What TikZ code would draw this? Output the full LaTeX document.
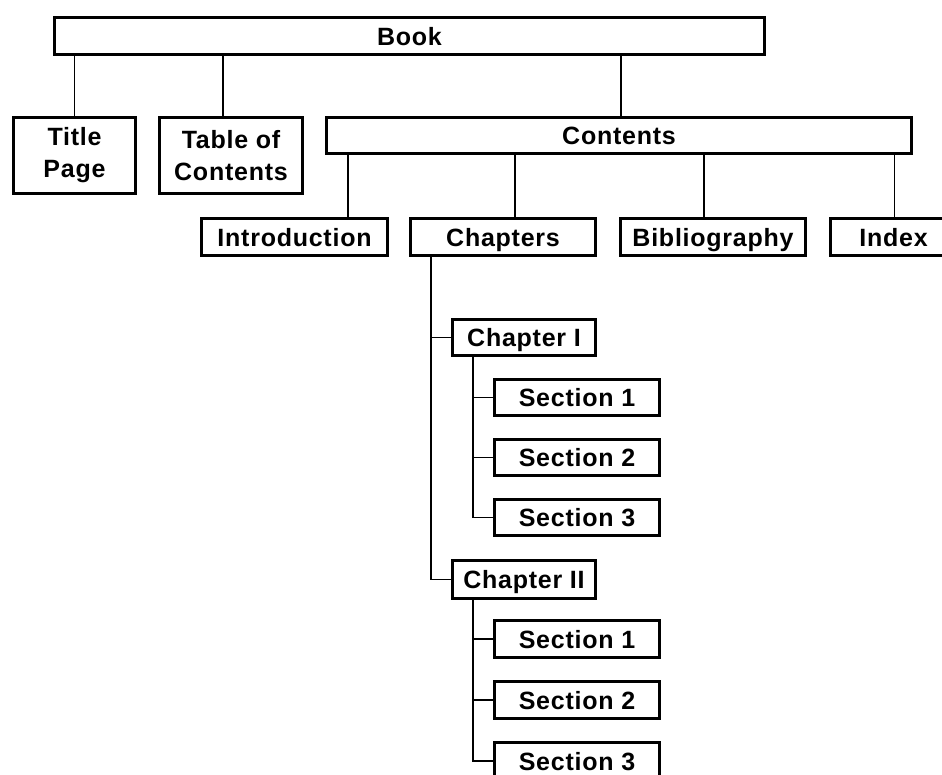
\documentclass[tikz,border=0pt]{standalone}
\usepackage{fontspec}
\setmainfont[LetterSpace=3]{Liberation Sans}
\usetikzlibrary{positioning}

\begin{document}
\begin{tikzpicture}[x=1pt, y=-1pt, node distance=21pt,
    every node/.style={font=\fontsize{25}{32}\selectfont\bfseries},
    box/.style={draw, line width=3pt, inner sep=0pt, align=center, text height=18pt, text depth=0pt,
      minimum height=37pt, anchor=north west},
    sect/.style={box, minimum width=165pt},
    link/.style={line width=1.5pt}]
  \useasboundingbox (0,0) rectangle (942,774);

  % top levels
  \node[box, minimum width=710pt] (book) at (53,16) {Book};
  \node[box, minimum width=122pt, minimum height=76pt, text height={}, text depth={}] (title) at (12,116) {Title\\Page};
  \node[box, minimum width=143pt, minimum height=76pt, text height={}, text depth={}] (toc) at (158,116) {Table of\\Contents};
  \node[box, minimum width=585pt, minimum height=36pt] (contents) at (325,116) {Contents};
  \node[box, minimum width=186pt] (intro) at (200,217) {Introduction};
  \node[box, minimum width=185pt] (chapters) at (409,217) {Chapters};
  \node[box, minimum width=185pt] (bibl) at (619,217) {Bibliography};
  \node[box, minimum width=126pt] (index) at (829,217) {Index};

  % chapters and their sections
  \node[box, minimum width=143pt, minimum height=36pt] (c1) at (451,318) {Chapter I};
  \node[sect, minimum height=36pt] (s11) at (493,378) {Section 1};
  \node[sect, minimum height=36pt, below=of s11.south west, anchor=north west] (s12) {Section 2};
  \node[sect, minimum height=36pt, below=of s12.south west, anchor=north west] (s13) {Section 3};

  \node[box, minimum width=143pt, minimum height=38pt] (c2) at (451,559) {Chapter II};
  \node[sect] (s21) at (493,619) {Section 1};
  \node[sect, below=of s21.south west, anchor=north west] (s22) {Section 2};
  \node[sect, below=of s22.south west, anchor=north west] (s23) {Section 3};

  % links
  \foreach \n/\s in {title/0,toc/-8,contents/2}
    {\draw[link] ([xshift=\s pt]\n.north) -- ([xshift=\s pt]\n.north |- book.south);}
  \foreach \n/\s in {intro/53.5,chapters/12,bibl/-9,index/1}
    {\draw[link] ([xshift=\s pt]\n.north) -- ([xshift=\s pt]\n.north |- contents.south);}

  \coordinate (trunk) at ([xshift=22pt]chapters.south west);
  \draw[link] (trunk) |- (c2.west);
  \draw[link] (c1.west) -- (c1.west -| trunk);

  \foreach \c/\a/\b/\z in {c1/s11/s12/s13,c2/s21/s22/s23}{
    \coordinate (\c-t) at ([xshift=22pt]\c.south west);
    \draw[link] (\c-t) |- (\z.west);
    \draw[link] (\a.west) -- (\a.west -| \c-t);
    \draw[link] (\b.west) -- (\b.west -| \c-t);
  }
\end{tikzpicture}
\end{document}
